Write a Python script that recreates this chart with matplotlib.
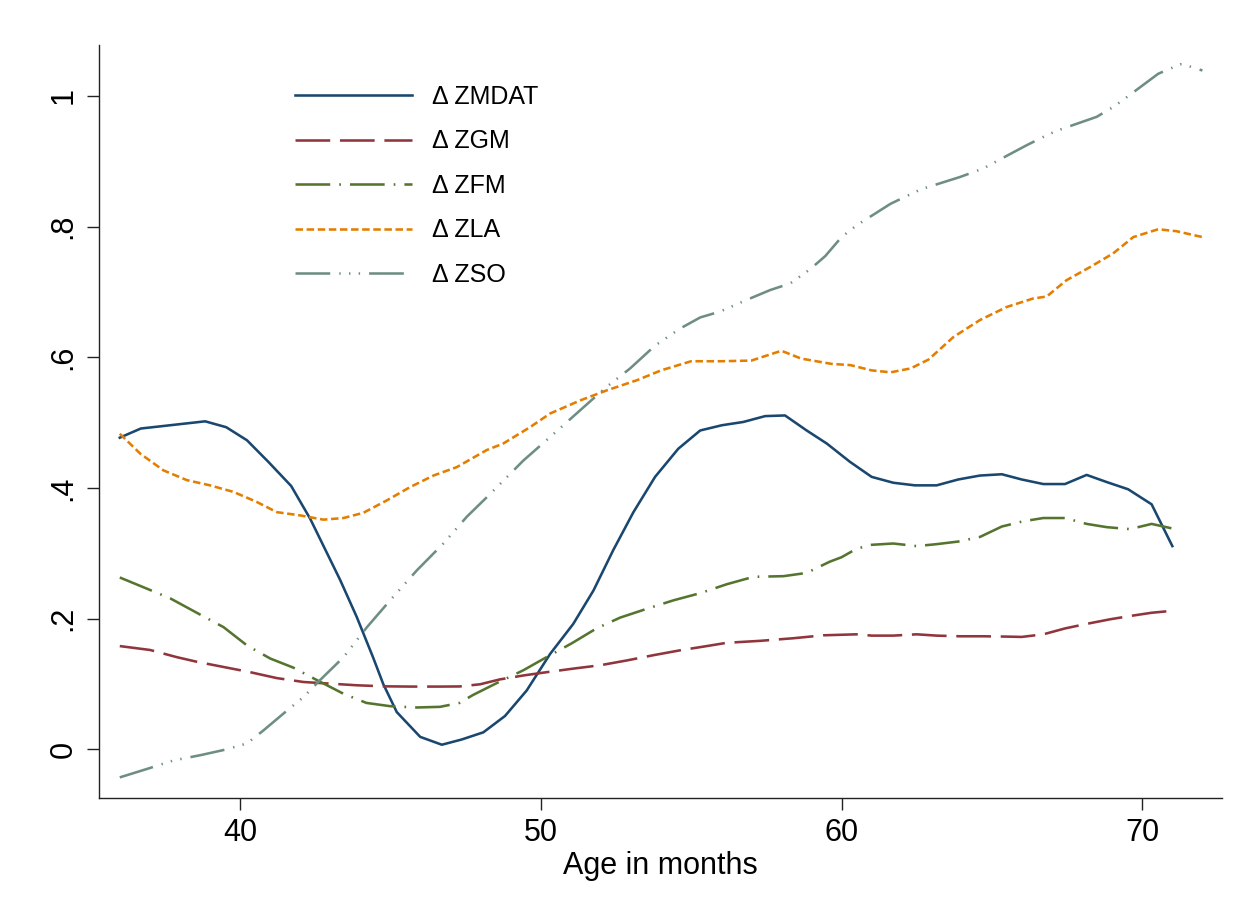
import matplotlib
matplotlib.use('Agg')
import matplotlib.pyplot as plt

# smoothed change scores by age
age_mdat = [36.0, 36.7, 38.84, 39.54, 40.23, 40.94, 41.7, 42.33, 43.33, 43.88, 44.42, 44.76,
            45.21, 45.99, 46.71, 47.37, 48.09, 48.81, 49.53, 50.31, 51.08, 51.75, 52.41, 53.08,
            53.8, 54.57, 55.3, 56.02, 56.73, 57.46, 58.12, 58.84, 59.51, 60.28, 61.0, 61.72,
            62.44, 63.16, 63.88, 64.6, 65.33, 65.99, 66.71, 67.43, 68.15, 68.82, 69.53, 70.31, 71.0]
zmdat = [0.477, 0.491, 0.502, 0.493, 0.473, 0.44, 0.403, 0.353, 0.259, 0.2025, 0.141, 0.1,
         0.057, 0.019, 0.007, 0.015, 0.026, 0.051, 0.09, 0.146, 0.192, 0.243, 0.305, 0.363,
         0.417, 0.46, 0.488, 0.496, 0.501, 0.51, 0.511, 0.488, 0.468, 0.44, 0.417, 0.408,
         0.404, 0.404, 0.413, 0.419, 0.421, 0.413, 0.406, 0.406, 0.42, 0.409, 0.398, 0.375, 0.311]

age_gm = [36.0, 37.01, 37.9, 38.56, 39.45, 40.34, 41.22, 42.11, 43.0, 43.88, 44.77, 45.65,
          46.65, 47.3, 47.98, 48.64, 49.42, 50.19, 51.08, 51.97, 52.86, 53.74, 54.63, 55.52,
          56.18, 57.29, 58.4, 59.4, 60.5, 61.0, 61.72, 62.5, 63.16, 63.94, 64.71, 65.49,
          65.99, 66.71, 67.43, 68.15, 68.93, 69.59, 70.31, 71.0]
zgm = [0.158, 0.152, 0.141, 0.134, 0.126, 0.118, 0.109, 0.103, 0.1005, 0.098, 0.0964, 0.096,
       0.096, 0.0962, 0.0995, 0.107, 0.113, 0.118, 0.1235, 0.1286, 0.136, 0.144, 0.1515, 0.158,
       0.163, 0.166, 0.17, 0.1745, 0.176, 0.174, 0.174, 0.176, 0.174, 0.173, 0.173, 0.1725,
       0.172, 0.176, 0.185, 0.192, 0.199, 0.204, 0.209, 0.212]

age_fm = [36.0, 36.79, 37.68, 38.68, 39.45, 40.23, 41.0, 41.77, 42.55, 43.44, 44.2, 44.99,
          45.88, 46.65, 47.3, 47.74, 48.52, 49.42, 50.19, 51.02, 51.85, 52.64, 53.52, 54.41,
          55.3, 56.18, 57.07, 58.07, 58.84, 59.6, 60.0, 60.5, 61.0, 61.72, 62.5, 63.16,
          63.88, 64.6, 65.33, 66.04, 66.71, 67.43, 68.15, 68.82, 69.59, 70.31, 71.0]
zfm = [0.263, 0.248, 0.231, 0.206, 0.187, 0.159, 0.139, 0.125, 0.106, 0.085, 0.071, 0.066,
       0.064, 0.065, 0.071, 0.083, 0.101, 0.121, 0.141, 0.162, 0.185, 0.2016, 0.215, 0.228,
       0.239, 0.2526, 0.264, 0.265, 0.27, 0.287, 0.294, 0.307, 0.313, 0.315, 0.311, 0.314,
       0.318, 0.325, 0.341, 0.349, 0.354, 0.354, 0.345, 0.34, 0.337, 0.345, 0.338]

age_la = [36.0, 36.68, 37.45, 38.23, 39.0, 39.78, 40.56, 41.22, 42.0, 42.77, 43.44, 44.1,
          44.88, 45.66, 46.43, 47.21, 48.2, 48.75, 49.64, 50.31, 51.31, 52.2, 53.2, 54.0,
          55.0, 56.0, 57.0, 58.0, 58.66, 59.66, 60.3, 61.0, 61.63, 62.3, 62.89, 63.72,
          64.6, 65.49, 66.37, 66.82, 67.48, 68.26, 69.03, 69.7, 70.53, 71.14, 72.0]
zla = [0.483, 0.4526, 0.427, 0.412, 0.404, 0.394, 0.3785, 0.363, 0.358, 0.3515, 0.354, 0.362,
       0.381, 0.4015, 0.419, 0.432, 0.458, 0.468, 0.493, 0.514, 0.534, 0.5495, 0.565, 0.58,
       0.594, 0.594, 0.595, 0.61, 0.598, 0.59, 0.588, 0.58, 0.577, 0.583, 0.5965, 0.631,
       0.657, 0.677, 0.69, 0.693, 0.718, 0.738, 0.759, 0.784, 0.796, 0.793, 0.784]

age_so = [36.0, 36.91, 37.79, 38.68, 39.56, 40.23, 40.78, 41.44, 42.11, 42.66, 43.44, 44.22,
          44.99, 45.88, 46.76, 47.54, 48.32, 49.42, 50.31, 51.31, 52.14, 52.97, 53.8, 54.63,
          55.3, 55.96, 56.8, 57.63, 58.29, 58.96, 59.46, 60.0, 60.5, 61.63, 62.63, 63.94,
          64.71, 64.99, 66.15, 66.87, 67.2, 68.48, 69.03, 69.42, 70.53, 71.26, 71.59, 72.0]
zso = [-0.043, -0.03, -0.017, -0.009, 0.0, 0.009, 0.029, 0.0546, 0.08, 0.106, 0.141, 0.187,
       0.228, 0.274, 0.315, 0.356, 0.391, 0.442, 0.478, 0.519, 0.553, 0.583, 0.618, 0.644,
       0.661, 0.67, 0.687, 0.703, 0.713, 0.735, 0.755, 0.784, 0.802, 0.835, 0.857, 0.876,
       0.889, 0.896, 0.9245, 0.941, 0.9475, 0.968, 0.983, 0.996, 1.034, 1.0485, 1.045, 1.039]

labels = ['\u0394 ZMDAT', '\u0394 ZGM', '\u0394 ZFM', '\u0394 ZLA', '\u0394 ZSO']
y_ticks = [0, 0.2, 0.4, 0.6, 0.8, 1.0]
y_tick_labels = ['0', '.2', '.4', '.6', '.8', '1']
x_ticks = [40, 50, 60, 70]

plt.rcParams['font.family'] = ['Liberation Sans', 'DejaVu Sans']
plt.rcParams['lines.scale_dashes'] = False

fig = plt.figure(figsize=(12.44, 9.15), dpi=100)
ax = fig.add_axes([0.0796, 0.1279, 0.9027, 0.8229])

lw = 1.85
ax.plot(age_mdat, zmdat, color='#1a476f', lw=lw, linestyle='-', label=labels[0])
ax.plot(age_gm, zgm, color='#90353b', lw=lw, linestyle=(0, (25, 7)),
        dash_capstyle='butt', label=labels[1])
ax.plot(age_fm, zfm, color='#55752f', lw=lw, linestyle=(0, (25, 6.5, 1.2, 6.5)),
        dash_capstyle='butt', label=labels[2])
ax.plot(age_la, zla, color='#e37e00', lw=lw, linestyle=(0, (5.4, 2.6)),
        dash_capstyle='butt', label=labels[3])
ax.plot(age_so, zso, color='#6e8e84', lw=lw, linestyle=(0, (25, 6.5, 1, 6, 1, 6, 1, 6.5)),
        dash_capstyle='butt', label=labels[4])

ax.set_xlim(35.31, 72.65)
ax.set_ylim(-0.0745, 1.078)

for side in ['top', 'right']:
    ax.spines[side].set_visible(False)
for side in ['left', 'bottom']:
    ax.spines[side].set_linewidth(1.0)
    ax.spines[side].set_color('#222222')

ax.set_xticks(x_ticks)
ax.set_yticks(y_ticks)
ax.set_yticklabels(y_tick_labels)
ax.tick_params(axis='both', direction='out', length=8.6, width=1.0, color='#222222',
               labelsize=22, pad=6)
ax.tick_params(axis='y', labelrotation=90)
for lbl in ax.get_yticklabels():
    lbl.set_va('center')

ax.set_xlabel('Age in months', fontsize=22, labelpad=2)

ax.legend(loc='upper left', bbox_to_anchor=(0.1745, 0.947), frameon=False, fontsize=18,
          handlelength=4.7, handletextpad=0.8, labelspacing=0.82, borderpad=0,
          borderaxespad=0)

fig.savefig('out.png', dpi=100, facecolor='white')
